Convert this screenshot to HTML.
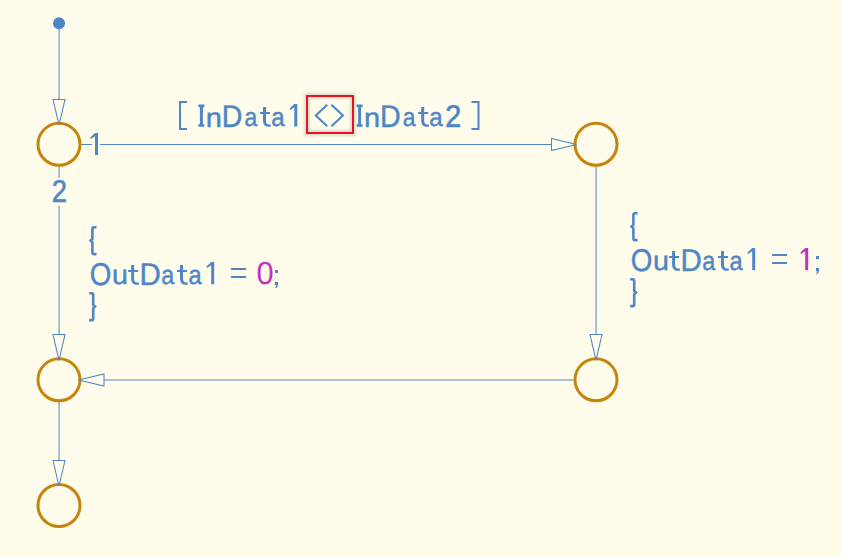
<!DOCTYPE html>
<html><head><meta charset="utf-8">
<style>
html,body{margin:0;padding:0;background:#FFFCEB;width:841px;height:557px;overflow:hidden}
svg{display:block}
text{text-rendering:geometricPrecision;font-family:"Liberation Sans",sans-serif;fill:#4E86C6;stroke:#4E86C6;stroke-width:0.45px}
</style></head><body>
<svg width="841" height="557" viewBox="0 0 841 557">
<defs>
<filter id="sh" x="-30%" y="-30%" width="160%" height="160%"><feGaussianBlur stdDeviation="1.6"/></filter>
</defs>
<rect width="841" height="557" fill="#FFFCEB"/>
<g fill="none" stroke="#4E86C6" stroke-width="1">
  <path id="ln1" d="M59.05,29 V100" stroke-opacity="1"/>
  <path id="ln2" d="M81,144.5 H551" />
  <path id="ln3" d="M596.05,166 V335" stroke-opacity="1"/>
  <path id="ln4" d="M574,380 H104" stroke-opacity="1"/>
  <path id="ln5" d="M59.05,166 V335" stroke-opacity="1"/>
  <path id="ln6" d="M59.05,402 V461" stroke-opacity="1"/>
</g>
<circle id="dot" cx="59" cy="23.2" r="6" fill="#4E86C6"/>
<g fill="none" stroke="#C6840C" stroke-width="3">
  <circle id="c1" cx="59" cy="144.3" r="21"/>
  <circle id="c2" cx="596" cy="144.3" r="21"/>
  <circle id="c3" cx="596" cy="379.8" r="21"/>
  <circle id="c4" cx="59" cy="379.8" r="21"/>
  <circle id="c5" cx="59" cy="505.5" r="21"/>
</g>
<g fill="none" stroke="#4E86C6" stroke-width="1.05" stroke-linejoin="miter">
  <polygon id="ah1" points="53,99.5 65,99.5 59,124.8"/>
  <polygon id="ah2" points="551.5,138.5 551.5,150.5 576.5,144.5"/>
  <polygon id="ah3" points="590,334.5 602,334.5 596,360.3"/>
  <polygon id="ah4" points="104,374 104,386 78.5,380"/>
  <polygon id="ah5" points="53,334.5 65,334.5 59,360.3"/>
  <polygon id="ah6" points="53,460.5 65,460.5 59,486"/>
</g>
<rect x="92" y="132" width="8" height="25" fill="#FFFCEB"/>
<rect x="50" y="177.8" width="18" height="27.9" fill="#FFFCEB"/>
<path id="l1" d="M95,133 H98 V155 H95 V136.2 L90.5,139.2 V137.2 Z" fill="#4E86C6"/>
<g id="redbox">
  <rect x="307" y="96" width="46" height="37" fill="none" stroke="#000" stroke-opacity="0.16" stroke-width="5" filter="url(#sh)"/>
  <rect x="307" y="96" width="46" height="37" fill="none" stroke="#E6141C" stroke-width="2"/>
</g>
<path id="ne" d="M327.2,104.8 L315.8,115.5 L327.2,126.2 M331.4,104.8 L342.9,115.5 L331.4,126.2" stroke="#4E86C6" stroke-width="2.1" fill="none"/>
<path id="lb" d="M179,101 h8 v2 h-6 v25 h6 v2 h-8 z" fill="#4E86C6"/>
<path id="rb" d="M471.5,101 h8 v29 h-8 v-2 h6 v-25 h-6 z" fill="#4E86C6"/>
<g id="in1" transform="translate(0,0)">
<path d="M198.4,104.6 h6 v2.6 h-1.5 v16.95 h1.5 v2.6 h-6 v-2.6 h1.5 v-16.95 h-1.5 z" fill="#4E86C6"/>
<text id="in1_n" transform="translate(205.73,126.53) scale(1.0635,1)" font-size="27.22" style="stroke-width:0.45px">n</text>
<text id="in1_D" transform="translate(221.76,126.53) scale(0.9081,1)" font-size="31.45" style="stroke-width:0.45px">D</text>
<text id="in1_a1" transform="translate(244.52,126.26) scale(0.8755,1)" font-size="26.18" style="stroke-width:0.45px">a</text>
<path d="M263.00,107.00 H266.00 V111.90 H270.00 V113.90 H266.00 V120.75 Q266.00,124.45 269.00,124.45 H270.80 V126.75 H268.60 Q263.00,126.75 263.00,120.75 V113.90 H260.00 V111.90 H263.00 Z" fill="#4E86C6"/>
<text id="in1_a2" transform="translate(271.13,126.26) scale(0.9214,1)" font-size="26.18" style="stroke-width:0.45px">a</text>
</g>
<path id="in1d" d="M294.3,104 H297.3 V126.4 H294.3 V107.2 L289.8,110.2 V108.2 Z" fill="#4E86C6"/>
<g id="in2" transform="translate(158.2,0)">
<path d="M198.4,104.6 h6 v2.6 h-1.5 v16.95 h1.5 v2.6 h-6 v-2.6 h1.5 v-16.95 h-1.5 z" fill="#4E86C6"/>
<text id="in2_n" transform="translate(205.73,126.53) scale(1.0635,1)" font-size="27.22" style="stroke-width:0.45px">n</text>
<text id="in2_D" transform="translate(221.76,126.53) scale(0.9081,1)" font-size="31.45" style="stroke-width:0.45px">D</text>
<text id="in2_a1" transform="translate(244.52,126.26) scale(0.8755,1)" font-size="26.18" style="stroke-width:0.45px">a</text>
<path d="M263.00,107.00 H266.00 V111.90 H270.00 V113.90 H266.00 V120.75 Q266.00,124.45 269.00,124.45 H270.80 V126.75 H268.60 Q263.00,126.75 263.00,120.75 V113.90 H260.00 V111.90 H263.00 Z" fill="#4E86C6"/>
<text id="in2_a2" transform="translate(271.13,126.26) scale(0.9214,1)" font-size="26.18" style="stroke-width:0.45px">a</text>
</g>
<text id="in2d" transform="translate(445.17,126.65) scale(0.9117,1)" font-size="31.50" style="stroke-width:0.7px">2</text>
<text id="l2" transform="translate(51.85,202.42) scale(0.8651,1)" font-size="31.64" style="stroke-width:0.55px">2</text>
<g id="Lblk" transform="translate(0,0)">
<path d="M96.5,227.3 H94 Q92.4,227.3 92.4,229 V238.9 L90.6,240.6 L92.4,242.3 V252.5 Q92.4,254.1 94,254.1 H96.5" fill="none" stroke="#4E86C6" stroke-width="2.6"/>
<path d="M89.2,293.3 H91.6 Q93.2,293.3 93.2,295 V304.9 L95.0,306.6 L93.2,308.3 V318.5 Q93.2,320.1 91.6,320.1 H89.2" fill="none" stroke="#4E86C6" stroke-width="2.6"/>
<text id="L_O" transform="translate(89.76,284.56) scale(0.8807,1)" font-size="31.48" style="stroke-width:0.45px">O</text>
<text id="L_u" transform="translate(111.88,284.31) scale(1.0642,1)" font-size="26.94" style="stroke-width:0.45px">u</text>
<path d="M131.10,265.10 H134.10 V270.00 H138.10 V272.00 H134.10 V278.80 Q134.10,282.50 137.10,282.50 H138.90 V284.80 H136.70 Q131.10,284.80 131.10,278.80 V272.00 H128.10 V270.00 H131.10 Z" fill="#4E86C6"/>
<text id="L_D" transform="translate(139.39,284.57) scale(0.9451,1)" font-size="31.23" style="stroke-width:0.45px">D</text>
<text id="L_a1" transform="translate(161.35,284.31) scale(0.8826,1)" font-size="26.45" style="stroke-width:0.45px">a</text>
<path d="M180.00,265.10 H183.00 V270.00 H187.00 V272.00 H183.00 V278.80 Q183.00,282.50 186.00,282.50 H187.80 V284.80 H185.60 Q180.00,284.80 180.00,278.80 V272.00 H177.00 V270.00 H180.00 Z" fill="#4E86C6"/>
<text id="L_a2" transform="translate(188.61,284.31) scale(0.8927,1)" font-size="26.45" style="stroke-width:0.45px">a</text>
<path d="M211.2,262 H214.2 V284.2 H211.2 V265.2 L206.7,268.2 V266.2 Z" fill="#4E86C6"/>
<rect x="231" y="268" width="15" height="2" fill="#4E86C6"/><rect x="231" y="276" width="15" height="2" fill="#4E86C6"/>
<text id="L_0" transform="translate(256.62,284.48) scale(0.9688,1)" font-size="31.83" style="fill:#C531C0;stroke:#C531C0;stroke-width:0px">0</text>
<path d="M275,270 h3 v3 h-3 z M275,282 h3 v2.6 q0,2.4 -2.3,3.6 l-0.6,-0.9 q1.2,-0.8 1.2,-2 h-1.3 z" fill="#4E86C6"/>
</g>
<g id="Rblk" transform="translate(541,-14)">
<path d="M96.5,227.3 H94 Q92.4,227.3 92.4,229 V238.9 L90.6,240.6 L92.4,242.3 V252.5 Q92.4,254.1 94,254.1 H96.5" fill="none" stroke="#4E86C6" stroke-width="2.6"/>
<path d="M89.2,293.3 H91.6 Q93.2,293.3 93.2,295 V304.9 L95.0,306.6 L93.2,308.3 V318.5 Q93.2,320.1 91.6,320.1 H89.2" fill="none" stroke="#4E86C6" stroke-width="2.6"/>
<text id="R_O" transform="translate(89.76,284.56) scale(0.8807,1)" font-size="31.48" style="stroke-width:0.45px">O</text>
<text id="R_u" transform="translate(111.88,284.31) scale(1.0642,1)" font-size="26.94" style="stroke-width:0.45px">u</text>
<path d="M131.10,265.10 H134.10 V270.00 H138.10 V272.00 H134.10 V278.80 Q134.10,282.50 137.10,282.50 H138.90 V284.80 H136.70 Q131.10,284.80 131.10,278.80 V272.00 H128.10 V270.00 H131.10 Z" fill="#4E86C6"/>
<text id="R_D" transform="translate(139.39,284.57) scale(0.9451,1)" font-size="31.23" style="stroke-width:0.45px">D</text>
<text id="R_a1" transform="translate(161.35,284.31) scale(0.8826,1)" font-size="26.45" style="stroke-width:0.45px">a</text>
<path d="M180.00,265.10 H183.00 V270.00 H187.00 V272.00 H183.00 V278.80 Q183.00,282.50 186.00,282.50 H187.80 V284.80 H185.60 Q180.00,284.80 180.00,278.80 V272.00 H177.00 V270.00 H180.00 Z" fill="#4E86C6"/>
<text id="R_a2" transform="translate(188.61,284.31) scale(0.8927,1)" font-size="26.45" style="stroke-width:0.45px">a</text>
<path d="M211.2,262 H214.2 V284.2 H211.2 V265.2 L206.7,268.2 V266.2 Z" fill="#4E86C6"/>
<rect x="231" y="268" width="15" height="2" fill="#4E86C6"/><rect x="231" y="276" width="15" height="2" fill="#4E86C6"/>
<path d="M264.2,262 H267.2 V284.2 H264.2 V265.2 L259.7,268.2 V266.2 Z" fill="#C531C0"/>
<path d="M275,270 h3 v3 h-3 z M275,282 h3 v2.6 q0,2.4 -2.3,3.6 l-0.6,-0.9 q1.2,-0.8 1.2,-2 h-1.3 z" fill="#4E86C6"/>
</g>
</svg>
</body></html>
